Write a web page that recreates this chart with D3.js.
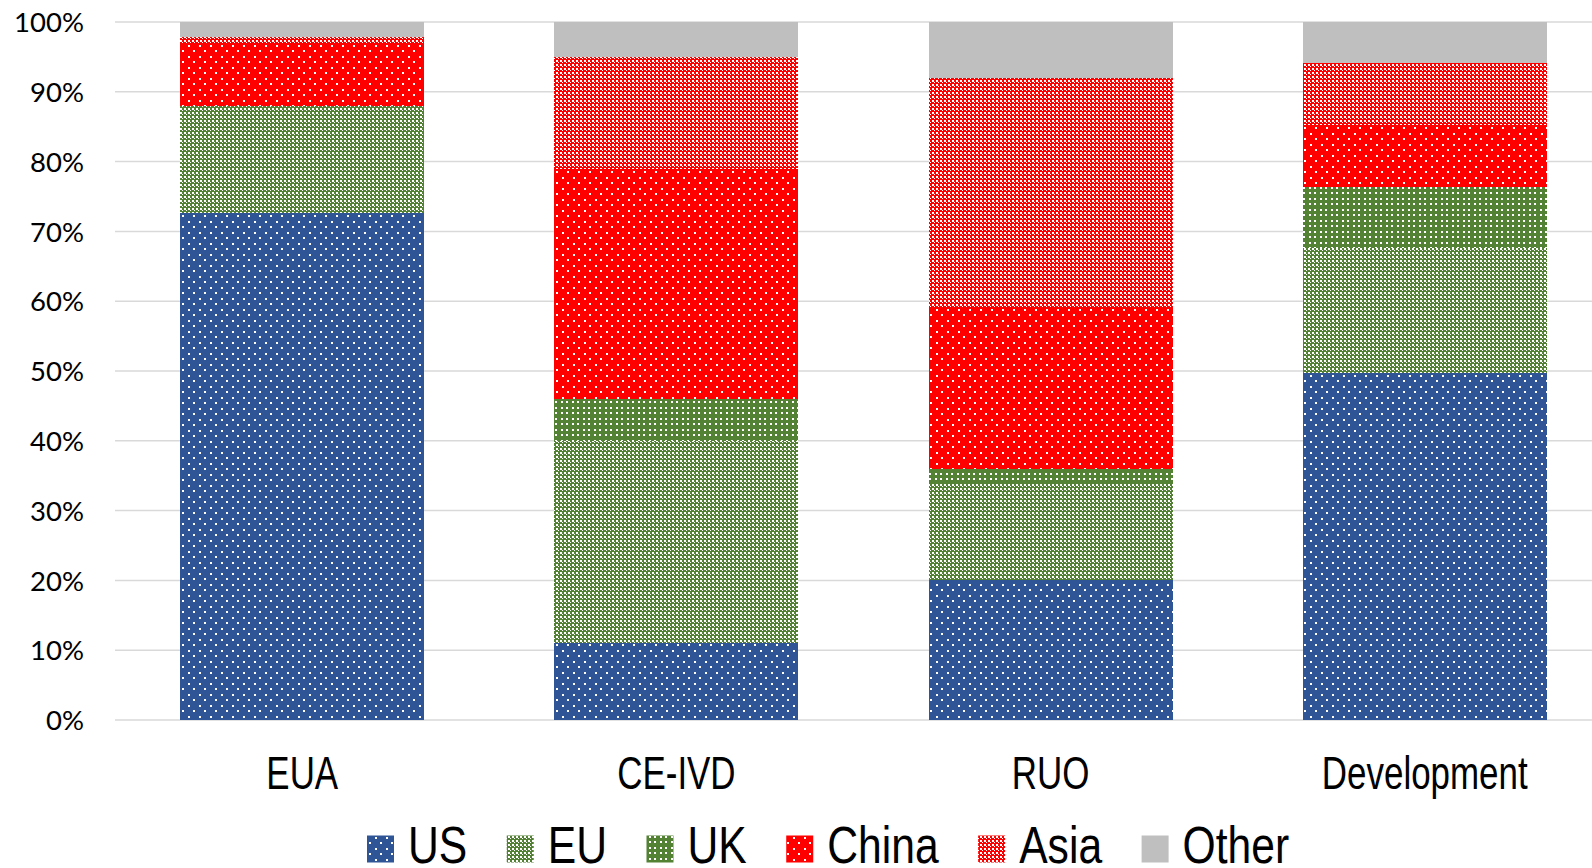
<!DOCTYPE html>
<html>
<head>
<meta charset="utf-8">
<script src="https://cdn.jsdelivr.net/npm/d3@7"></script>
<style>
  html, body { margin: 0; padding: 0; background: #fff; overflow: hidden; }
  svg { display: block; }
</style>
</head>
<body>
<svg id="chart" width="1592" height="868"></svg>
<script>
// Share of tests by origin, per regulatory status (percent of each column)
const categories = ["EUA", "CE-IVD", "RUO", "Development"];
const seriesNames = ["US", "EU", "UK", "China", "Asia", "Other"];
const usShare    = [72.6, 11, 20, 49.7];
const euShare    = [15.3, 29, 14, 17.9];
const ukShare    = [0,     6,  2,  8.8];
const chinaShare = [9.0,  33, 23,  8.9];
const asiaShare  = [0.9,  16, 33,  8.8];
const otherShare = [2.2,   5,  8,  5.9];
const yTickValues = [0, 10, 20, 30, 40, 50, 60, 70, 80, 90, 100];

const seriesValues = [usShare, euShare, ukShare, chinaShare, asiaShare, otherShare];
const rows = categories.map((c, i) => {
  const r = { category: c };
  seriesNames.forEach((s, k) => { r[s] = seriesValues[k][i] / 100; });
  return r;
});

// Fill style per series: base colour + pattern kind
const fills = {
  US:    { color: "#2F5597", kind: "dots" },
  EU:    { color: "#548235", kind: "check" },
  UK:    { color: "#548235", kind: "grid" },
  China: { color: "#FF0000", kind: "dots" },
  Asia:  { color: "#FF0000", kind: "check" },
  Other: { color: "#BFBFBF", kind: "solid" }
};

const svg = d3.select("#chart");
const W = 1592;
const defs = svg.append("defs");
const narrowFont = "'Liberation Sans', Arial, sans-serif";
const NARROW = 0.82; // horizontal compression giving a narrow face

seriesNames.forEach(name => {
  const f = fills[name];
  if (f.kind === "solid") return;
  const size = f.kind === "check" ? 4 : 11;
  const p = defs.append("pattern")
    .attr("id", "pat-" + name)
    .attr("patternUnits", "userSpaceOnUse")
    .attr("width", size).attr("height", size);
  p.append("rect").attr("width", size).attr("height", size).attr("fill", f.color);
  let cells = [];
  if (f.kind === "dots") cells = [[1, 1, 2, 2], [6, 6, 2, 2]];
  if (f.kind === "grid") cells = [[0, 0, 2, 2], [5, 0, 2, 2], [0, 5, 2, 2], [5, 5, 2, 2]];
  if (f.kind === "check") cells = [[0, 0, 2, 2], [2, 2, 1, 1]];
  cells.forEach(c => p.append("rect")
    .attr("x", c[0]).attr("y", c[1]).attr("width", c[2]).attr("height", c[3])
    .attr("fill", "#fff"));
});
const fillOf = name => fills[name].kind === "solid" ? fills[name].color : `url(#pat-${name})`;

// Scales
const x = d3.scaleBand()
  .domain(categories)
  .range([115, 1612])
  .paddingInner(0.348)
  .paddingOuter(0.1745);
const y = d3.scaleLinear().domain([0, 1]).range([720, 22]);

// Gridlines
svg.append("g")
  .selectAll("line")
  .data(yTickValues)
  .join("line")
  .attr("x1", 115).attr("x2", W)
  .attr("y1", d => y(d / 100)).attr("y2", d => y(d / 100))
  .attr("stroke", "#D9D9D9").attr("stroke-width", 1.5);

// Y axis labels
const yAxis = d3.axisLeft(y)
  .tickValues(yTickValues.map(v => v / 100))
  .tickFormat(d3.format(".0%"))
  .tickSize(0).tickPadding(0);
const yg = svg.append("g").attr("transform", "translate(84,0)").call(yAxis);
yg.select(".domain").remove();
yg.selectAll("text")
  .attr("font-family", "Lato, 'Open Sans', sans-serif")
  .attr("font-size", 27.5)
  .attr("fill", "#000")
  .attr("dy", "0.35em");

// Stacked bars
const stacked = d3.stack().keys(seriesNames)(rows);
svg.append("g")
  .selectAll("g")
  .data(stacked)
  .join("g")
  .attr("fill", d => fillOf(d.key))
  .selectAll("rect")
  .data(d => d)
  .join("rect")
  .attr("x", d => x(d.data.category))
  .attr("width", x.bandwidth())
  .attr("y", d => y(d[1]))
  .attr("height", d => Math.max(0, y(d[0]) - y(d[1])))
  .attr("shape-rendering", "crispEdges");

// Category labels
const xAxis = d3.axisBottom(x).tickSize(0).tickPadding(0);
const xg = svg.append("g").call(xAxis);
xg.select(".domain").remove();
xg.selectAll("text").remove();
xg.selectAll(".tick").each(function(d) {
  d3.select(this).append("text")
    .attr("transform", `translate(0,789) scale(${NARROW},1.07)`)
    .attr("text-anchor", "middle")
    .attr("font-family", narrowFont)
    .attr("font-size", 42.6)
    .attr("fill", "#000")
    .text(d);
});

// Legend
const SW = 27, SW_GAP = 14, ITEM_GAP = 39.5, LEG_X = 367, LEG_BASE = 862.5;
const legend = svg.append("g");
const items = legend.selectAll("g").data(seriesNames).join("g");
items.append("rect")
  .attr("width", SW).attr("height", SW)
  .attr("y", LEG_BASE - SW)
  .attr("fill", d => fillOf(d));
items.append("text")
  .attr("font-family", narrowFont)
  .attr("font-size", 52)
  .attr("fill", "#000")
  .text(d => d);
let cursor = LEG_X;
items.each(function() {
  const g = d3.select(this);
  const w = g.select("text").node().getComputedTextLength() * NARROW;
  g.select("rect").attr("x", cursor);
  g.select("text").attr("transform", `translate(${cursor + SW + SW_GAP},${LEG_BASE}) scale(${NARROW},1)`);
  cursor += SW + SW_GAP + w + ITEM_GAP;
});
</script>
</body>
</html>
